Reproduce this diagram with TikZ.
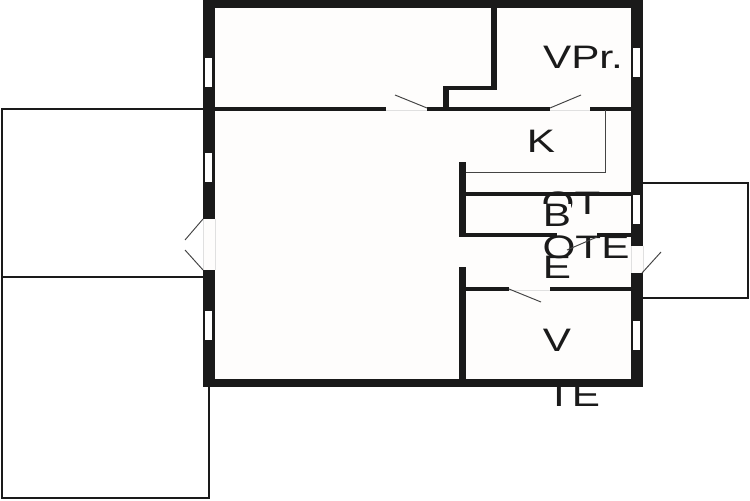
\documentclass[tikz,border=0pt]{standalone}
\usepackage{fontspec}
\setmainfont{Liberation Sans}
\definecolor{wallc}{HTML}{1A1A1A}
\definecolor{linec}{HTML}{444444}
\definecolor{floorc}{HTML}{FEFDFC}
\begin{document}
\begin{tikzpicture}[x=.02cm, y=-.02cm,
    wall/.style={fill=wallc},
    thin wall/.style={draw=wallc, line width=1.1pt},
    leaf/.style={draw=linec, line width=.55pt},
    gap/.style={draw=black!12, line width=.3pt},
    pane/.style={fill=white},
    room/.style={font=\fontsize{18.5}{20}\selectfont, transform shape, xscale=1.3, inner sep=0pt, text=wallc}]
             \useasboundingbox (0, 0) rectangle (750, 500);
             \fill[floorc] (203, 0) rectangle (643, 387);

             % outbuildings
             \draw[thin wall] (203, 109) -- (2, 109) -- (2, 277) -- (203, 277);
             \draw[thin wall] (2, 277) -- (2, 498) -- (209, 498) -- (209, 387);
             \draw[thin wall] (643, 183) -- (748, 183) -- (748, 298) -- (643, 298);

             % labels come first, the walls cover their tops
             \node[room] (vpr) at (583, 57) {VPr.};
             \node[room] (k) at (541, 141) {K};
             \node[room] (ot) at (571, 203) {OT};
             \node[room, fill=floorc] (b) at (557, 215) {B};
             \node[room] (ote) at (586, 247) {OTE};
             \node[room] (e) at (557, 267) {E};
             \node[room] (v) at (557, 340) {V};
             \node[room] (te) at (573, 395) {TE};

             % outer walls
             \fill[wall] (203, 0) rectangle (643, 8);
             \fill[wall] (203, 379) rectangle (643, 387);
             \fill[wall] (203, 0) rectangle (215, 219);
             \fill[wall] (203, 270) rectangle (215, 387);
             \fill[wall] (631, 0) rectangle (643, 246);
             \fill[wall] (631, 273) rectangle (643, 387);

             % windows
             \foreach \y in {58, 153, 311}
                 \fill[pane] (205, \y) rectangle (212, \y+29);
             \foreach \y in {48, 195, 321}
                 \fill[pane] (633, \y) rectangle (640, \y+29);

             % upper inner walls
             \fill[wall] (215, 107) rectangle (386, 111);
             \fill[wall] (427, 107) rectangle (550, 111);
             \fill[wall] (590, 107) rectangle (631, 111);
             \fill[wall] (491, 8) rectangle (497, 90);
             \fill[wall] (443, 86) rectangle (497, 90);
             \fill[wall] (443, 86) rectangle (449, 108);
             \draw[leaf] (605, 110) -- (605, 172) -- (466, 172);

             % middle inner walls
             \fill[wall] (459, 162) rectangle (466, 237);
             \fill[wall] (466, 192) rectangle (631, 196);
             \fill[wall] (466, 233) rectangle (557, 237);
             \fill[wall] (597, 233) rectangle (631, 237);
             \fill[wall] (459, 267) rectangle (466, 379);
             \fill[wall] (466, 287) rectangle (509, 291);
             \fill[wall] (550, 287) rectangle (631, 291);

             % door openings
             \draw[gap] (386, 110) -- (427, 110);
             \draw[gap] (550, 110) -- (590, 110);
             \draw[gap] (509, 290) -- (550, 290);
             \draw[gap] (203, 219) -- (203, 270);
             \draw[gap] (215, 219) -- (215, 270);
             \draw[gap] (631, 246) -- (631, 273);
             \draw[gap] (643, 246) -- (643, 273);

             % door leaves
             \draw[leaf] (427, 108) -- (395, 95);
             \draw[leaf] (550, 108) -- (581, 95);
             \draw[leaf] (597, 237) -- (567, 250);
             \draw[leaf] (509, 289) -- (541, 302);
             \draw[leaf] (642, 273) -- (661, 252);
             \draw[leaf] (203, 219) -- (185, 240);
             \draw[leaf] (203, 270) -- (185, 250);
\end{tikzpicture}
\end{document}
